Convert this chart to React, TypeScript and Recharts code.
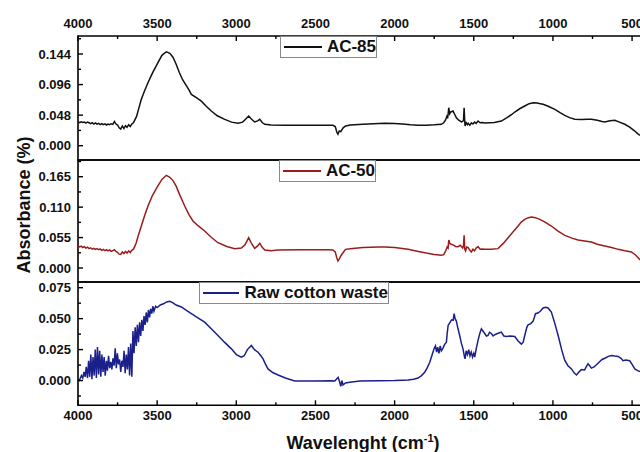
import React from "react";
import { LineChart, Line, XAxis, YAxis, ReferenceArea } from "recharts";

// ---- data: [wavenumber (cm-1), absorbance] ----
const ac85: [number, number][] = [
  [4000,0.0372],[3990,0.036],[3980,0.0375],[3970,0.0365],[3960,0.037],[3950,0.0355],[3940,0.0372],[3930,0.036],[3920,0.0345],[3910,0.0362],
  [3900,0.034],[3890,0.0358],[3880,0.0338],[3870,0.035],[3860,0.0332],[3850,0.0345],[3840,0.033],[3830,0.0342],[3820,0.0325],[3810,0.034],
  [3800,0.033],[3790,0.0345],[3780,0.0335],[3770,0.038],[3760,0.034],[3750,0.0325],[3740,0.028],[3730,0.026],[3720,0.031],[3710,0.027],
  [3700,0.0315],[3690,0.029],[3680,0.033],[3670,0.030],[3660,0.034],[3650,0.036],[3640,0.041],[3630,0.046],[3620,0.055],[3600,0.0728],
  [3580,0.086],[3558,0.0988],[3530,0.114],[3500,0.128],[3470,0.142],[3442,0.1475],[3420,0.145],[3400,0.139],[3380,0.128],[3360,0.115],
  [3340,0.104],[3320,0.096],[3300,0.088],[3284,0.0806],[3250,0.075],[3221,0.070],[3190,0.062],[3158,0.0544],[3120,0.047],[3073,0.0414],
  [3030,0.037],[2989,0.0351],[2960,0.037],[2940,0.042],[2922,0.0466],[2905,0.042],[2884,0.0372],[2865,0.039],[2852,0.0414],[2835,0.036],
  [2820,0.0336],[2780,0.0325],[2700,0.032],[2600,0.032],[2500,0.0322],[2420,0.0322],[2390,0.032],[2375,0.030],[2365,0.021],[2358,0.0179],
  [2350,0.023],[2340,0.022],[2325,0.028],[2310,0.031],[2280,0.0325],[2200,0.0336],[2100,0.0348],[2062,0.0351],[2000,0.0348],[1950,0.034],
  [1900,0.0328],[1852,0.032],[1800,0.0322],[1750,0.0328],[1705,0.0336],[1690,0.036],[1679,0.040],[1670,0.046],[1665,0.043],[1658,0.0596],
  [1652,0.050],[1645,0.053],[1631,0.0544],[1620,0.049],[1610,0.0439],[1595,0.040],[1578,0.0372],[1570,0.038],[1565,0.040],[1561,0.0596],
  [1557,0.038],[1555,0.031],[1548,0.036],[1540,0.033],[1535,0.0351],[1525,0.032],[1515,0.036],[1505,0.034],[1495,0.037],[1485,0.035],
  [1473,0.0387],[1460,0.036],[1445,0.0365],[1431,0.0356],[1400,0.036],[1370,0.0365],[1326,0.0387],[1290,0.044],[1260,0.049],[1241,0.0529],
  [1210,0.058],[1178,0.0623],[1150,0.066],[1125,0.0675],[1100,0.067],[1080,0.066],[1062,0.065],[1030,0.062],[988,0.0571],[955,0.052],
  [925,0.0477],[895,0.044],[862,0.0414],[820,0.0412],[780,0.0415],[757,0.0414],[720,0.040],[690,0.038],[672,0.0372],[640,0.039],
  [609,0.040],[580,0.037],[546,0.0336],[515,0.029],[483,0.023],[465,0.019],[450,0.0163],
];

const ac50: [number, number][] = [
  [4000,0.0398],[3990,0.038],[3980,0.0395],[3970,0.037],[3960,0.0385],[3950,0.036],[3940,0.0375],[3930,0.035],[3920,0.0365],[3910,0.034],
  [3900,0.0355],[3890,0.0335],[3880,0.035],[3870,0.033],[3860,0.0345],[3850,0.032],[3840,0.0335],[3830,0.0315],[3820,0.033],[3810,0.031],
  [3800,0.0325],[3790,0.030],[3780,0.0315],[3770,0.033],[3760,0.030],[3750,0.028],[3740,0.025],[3730,0.0245],[3720,0.029],[3710,0.026],
  [3700,0.030],[3690,0.027],[3680,0.031],[3670,0.028],[3660,0.032],[3650,0.034],[3640,0.040],[3632,0.0457],[3620,0.058],[3600,0.0759],
  [3580,0.094],[3558,0.112],[3530,0.131],[3500,0.146],[3470,0.160],[3442,0.1675],[3420,0.164],[3400,0.158],[3380,0.148],[3360,0.134],
  [3340,0.121],[3326,0.112],[3300,0.097],[3274,0.085],[3240,0.076],[3200,0.0669],[3160,0.056],[3116,0.0457],[3060,0.039],[3010,0.0349],
  [2968,0.036],[2945,0.042],[2922,0.0548],[2905,0.045],[2884,0.0355],[2865,0.040],[2852,0.0446],[2835,0.037],[2820,0.0325],[2780,0.031],
  [2736,0.0325],[2600,0.0328],[2500,0.033],[2420,0.033],[2390,0.0325],[2375,0.029],[2365,0.018],[2358,0.0127],[2350,0.016],[2340,0.0217],
  [2325,0.028],[2310,0.0337],[2280,0.035],[2200,0.037],[2100,0.038],[2062,0.038],[2000,0.037],[1915,0.0337],[1850,0.030],[1800,0.027],
  [1750,0.0245],[1705,0.0229],[1690,0.024],[1679,0.030],[1668,0.038],[1662,0.036],[1658,0.0506],[1650,0.044],[1641,0.0428],[1625,0.041],
  [1615,0.039],[1599,0.0386],[1585,0.041],[1570,0.036],[1565,0.040],[1561,0.059],[1557,0.034],[1552,0.0307],[1545,0.038],[1535,0.0368],
  [1525,0.032],[1515,0.029],[1505,0.034],[1495,0.031],[1485,0.036],[1473,0.0386],[1460,0.034],[1445,0.0345],[1431,0.0337],[1390,0.034],
  [1347,0.035],[1315,0.044],[1283,0.0548],[1250,0.066],[1220,0.0759],[1200,0.083],[1178,0.088],[1155,0.091],[1136,0.0922],[1110,0.091],
  [1083,0.088],[1050,0.083],[1010,0.0759],[970,0.067],[925,0.059],[880,0.054],[841,0.0506],[800,0.049],[757,0.047],[720,0.043],
  [672,0.0398],[630,0.037],[588,0.0337],[545,0.031],[504,0.029],[480,0.024],[460,0.018],[450,0.0145],
];

const rawCotton: [number, number][] = [
  [4000,0.001],[3992,0.000],[3985,0.002],[3978,0.004],[3970,0.002],[3962,0.007],[3955,0.003],[3948,0.011],[3940,0.002],[3933,0.016],
  [3926,0.003],[3919,0.021],[3912,0.001],[3905,0.019],[3898,0.004],[3891,0.025],[3884,0.002],[3877,0.027],[3870,0.005],[3863,0.024],
  [3856,0.003],[3849,0.021],[3842,0.007],[3835,0.019],[3828,0.004],[3821,0.016],[3814,0.008],[3807,0.020],[3800,0.010],[3793,0.015],
  [3786,0.009],[3779,0.018],[3772,0.012],[3765,0.026],[3758,0.010],[3751,0.022],[3744,0.013],[3737,0.017],[3730,0.007],[3723,0.016],
  [3716,0.011],[3709,0.024],[3702,0.006],[3695,0.021],[3688,0.009],[3681,0.027],[3674,0.004],[3667,0.030],[3660,0.003],[3653,0.040],
  [3646,0.022],[3639,0.043],[3632,0.028],[3625,0.045],[3618,0.031],[3611,0.047],[3604,0.036],[3597,0.049],[3590,0.040],[3583,0.052],
  [3576,0.045],[3569,0.055],[3562,0.047],[3555,0.057],[3548,0.051],[3541,0.058],[3534,0.054],[3527,0.060],[3520,0.056],[3510,0.060],
  [3500,0.059],[3480,0.061],[3460,0.062],[3440,0.0635],[3421,0.064],[3400,0.0628],[3380,0.061],[3347,0.0594],[3320,0.057],[3284,0.054],
  [3240,0.0505],[3200,0.0472],[3160,0.042],[3116,0.0364],[3075,0.031],[3031,0.0256],[3000,0.021],[2968,0.0189],[2950,0.020],[2930,0.025],
  [2905,0.0283],[2885,0.025],[2863,0.0229],[2845,0.020],[2831,0.0175],[2815,0.013],[2800,0.0094],[2770,0.0065],[2736,0.0045],[2690,0.002],
  [2631,-0.0003],[2500,-0.0003],[2400,-0.0002],[2378,-0.0003],[2365,0.0015],[2357,0.0026],[2350,0.000],[2340,-0.0046],[2333,0.000],[2326,-0.0035],
  [2310,-0.002],[2284,-0.0014],[2219,-0.0003],[2100,-0.0002],[2000,0.000],[1950,0.0003],[1915,0.0005],[1880,0.001],[1852,0.002],[1830,0.004],
  [1810,0.0067],[1795,0.010],[1778,0.0148],[1765,0.020],[1751,0.0256],[1742,0.028],[1735,0.023],[1728,0.027],[1720,0.022],[1712,0.028],
  [1705,0.024],[1695,0.026],[1685,0.029],[1673,0.031],[1668,0.038],[1662,0.0445],[1650,0.047],[1640,0.049],[1630,0.0486],[1624,0.054],
  [1618,0.050],[1610,0.048],[1600,0.042],[1589,0.0364],[1578,0.030],[1568,0.0256],[1560,0.020],[1555,0.0175],[1548,0.024],[1540,0.021],
  [1532,0.025],[1524,0.020],[1516,0.023],[1508,0.019],[1500,0.022],[1494,0.0189],[1484,0.026],[1473,0.0324],[1462,0.038],[1452,0.0418],
  [1442,0.040],[1431,0.038],[1420,0.036],[1410,0.0365],[1400,0.039],[1389,0.038],[1378,0.036],[1368,0.037],[1350,0.038],[1326,0.0391],
  [1310,0.036],[1294,0.0355],[1270,0.036],[1241,0.0356],[1220,0.032],[1199,0.0294],[1188,0.031],[1178,0.0364],[1165,0.043],[1157,0.045],
  [1140,0.046],[1125,0.048],[1110,0.054],[1095,0.0545],[1080,0.056],[1062,0.0586],[1045,0.0592],[1031,0.0586],[1010,0.0553],[990,0.047],
  [967,0.0364],[945,0.025],[925,0.0162],[905,0.012],[883,0.0094],[865,0.006],[851,0.0045],[835,0.007],[820,0.0089],[800,0.0085],
  [790,0.011],[778,0.0135],[768,0.012],[757,0.010],[740,0.011],[715,0.014],[690,0.017],[672,0.018],[650,0.0195],[630,0.0202],
  [610,0.0198],[588,0.0195],[570,0.018],[557,0.016],[540,0.0165],[515,0.016],[500,0.013],[483,0.0094],[465,0.008],[450,0.0073],
];

// ---- axes ----
const xDomain: [number, number] = [450, 4000];
const xFrameEnd = 440;
const xMajorTicks = [4000, 3500, 3000, 2500, 2000, 1500, 1000, 500];
const xMinorTicks = [3750, 3250, 2750, 2250, 1750, 1250, 750];

const y1Domain: [number, number] = [-0.0225, 0.1723];
const y1Major = [0, 0.048, 0.096, 0.144];
const y1Minor = [0.024, 0.072, 0.12, 0.168];

const y2Domain: [number, number] = [-0.0253, 0.1952];
const y2Major = [0, 0.055, 0.11, 0.165];
const y2Minor = [0.0275, 0.0825, 0.1375, 0.1925];

const y3Domain: [number, number] = [-0.02, 0.0796];
const y3Major = [0, 0.025, 0.05, 0.075];
const y3Minor = [-0.0125, 0.0125, 0.0375, 0.0625];

const seriesNames = ["AC-85", "AC-50", "Raw cotton waste"];
const colors = ["#111111", "#9a1c1c", "#1a1f8a"];

const FONT = "'Liberation Sans', Arial, Helvetica, sans-serif";
const toRows = (d: [number, number][]) => d.map(([wn, abs]) => ({ wn, abs }));

const makeXTick = (pos: "top" | "bottom", showLabel: boolean) => (props: any) => {
  const { x, y, payload } = props;
  const major = xMajorTicks.includes(payload.value);
  const len = major ? 5 : 3;
  const dir = pos === "top" ? 1 : -1;
  return (
    <g>
      <path d={`M${x},${y}L${x},${y + dir * len}`} stroke="#000" strokeWidth={1.4} fill="none" />
      {showLabel && major && (
        <text
          x={x}
          y={pos === "top" ? y - 8.5 : y + 15}
          textAnchor="middle"
          fontFamily={FONT}
          fontWeight="bold"
          fontSize={13}
          fill="#111"
        >
          {payload.value}
        </text>
      )}
    </g>
  );
};

const makeYTick = (majors: number[]) => (props: any) => {
  const { x, y, payload } = props;
  const major = majors.some((m) => Math.abs(m - payload.value) < 1e-9);
  return (
    <g>
      <path d={`M${x},${y}L${x + (major ? 5 : 3)},${y}`} stroke="#000" strokeWidth={1.4} fill="none" />
      {major && (
        <text
          x={x - 7}
          y={y + 4.6}
          textAnchor="end"
          fontFamily={FONT}
          fontWeight="bold"
          fontSize={13}
          fill="#111"
        >
          {payload.value.toFixed(3)}
        </text>
      )}
    </g>
  );
};

const xTicksAll = [...xMajorTicks, ...xMinorTicks].sort((a, b) => b - a);

type PanelProps = {
  data: [number, number][];
  color: string;
  yDomain: [number, number];
  yMajor: number[];
  yMinor: number[];
  top: number;
  height: number;
  margin: { top: number; bottom: number };
  topAxis: number;
  bottomAxis: number;
  bottomLabels: boolean;
};

function Panel(p: PanelProps) {
  return (
    <div style={{ position: "absolute", left: 0, top: p.top, width: 640, height: p.height }}>
      <LineChart
        width={640}
        height={p.height}
        data={toRows(p.data)}
        margin={{ top: p.margin.top, right: 0, bottom: p.margin.bottom, left: 0 }}
      >
        {p.topAxis > 0 && (
          <XAxis
            xAxisId="top"
            orientation="top"
            type="number"
            dataKey="wn"
            domain={xDomain}
            reversed
            allowDataOverflow
            ticks={xTicksAll}
            interval={0}
            height={p.topAxis}
            tickSize={0}
            tickMargin={0}
            tickLine={false}
            axisLine={false}
            tick={makeXTick("top", true)}
          />
        )}
        <XAxis
          xAxisId="bottom"
          orientation="bottom"
          type="number"
          dataKey="wn"
          domain={xDomain}
          reversed
          allowDataOverflow
          ticks={xTicksAll}
          interval={0}
          height={p.bottomAxis}
          tickSize={0}
          tickMargin={0}
          tickLine={false}
          axisLine={false}
          tick={makeXTick("bottom", p.bottomLabels)}
        />
        <YAxis
          type="number"
          domain={p.yDomain}
          allowDataOverflow
          ticks={[...p.yMajor, ...p.yMinor].sort((a, b) => a - b)}
          interval={0}
          width={78}
          tickSize={0}
          tickMargin={0}
          tickLine={false}
          axisLine={false}
          tick={makeYTick(p.yMajor)}
        />
        <ReferenceArea
          xAxisId="bottom"
          x1={4000}
          x2={xFrameEnd}
          y1={p.yDomain[0]}
          y2={p.yDomain[1]}
          ifOverflow="visible"
          fill="none"
          fillOpacity={0}
          stroke="#000"
          strokeWidth={1.6}
          strokeOpacity={1}
        />
        <Line
          xAxisId="bottom"
          type="linear"
          dataKey="abs"
          stroke={p.color}
          strokeWidth={1.5}
          dot={false}
          isAnimationActive={false}
        />
      </LineChart>
    </div>
  );
}

function LegendBox({ left, top, width, name, color }: { left: number; top: number; width: number; name: string; color: string }) {
  return (
    <div
      style={{
        position: "absolute",
        left,
        top,
        width,
        height: 22,
        boxSizing: "border-box",
        border: "1px solid #8a8a8a",
        background: "#fff",
        display: "flex",
        alignItems: "center",
        fontFamily: FONT,
        fontWeight: "bold",
        fontSize: 17,
        color: "#111",
        whiteSpace: "nowrap",
      }}
    >
      <div style={{ width: 38, height: 2, background: color, marginLeft: 3, marginRight: 5 }} />
      <span>{name}</span>
    </div>
  );
}

export default function App() {
  return (
    <div style={{ position: "absolute", left: 0, top: 0, width: 640, height: 452, background: "#fff", overflow: "hidden" }}>
      <Panel
        data={ac85}
        color={colors[0]}
        yDomain={y1Domain}
        yMajor={y1Major}
        yMinor={y1Minor}
        top={0}
        height={170}
        margin={{ top: 0, bottom: 10 }}
        topAxis={36}
        bottomAxis={0}
        bottomLabels={false}
      />
      <Panel
        data={ac50}
        color={colors[1]}
        yDomain={y2Domain}
        yMajor={y2Major}
        yMinor={y2Minor}
        top={150}
        height={142}
        margin={{ top: 10, bottom: 10 }}
        topAxis={0}
        bottomAxis={0}
        bottomLabels={false}
      />
      <Panel
        data={rawCotton}
        color={colors[2]}
        yDomain={y3Domain}
        yMajor={y3Major}
        yMinor={y3Minor}
        top={272}
        height={180}
        margin={{ top: 10, bottom: 0 }}
        topAxis={0}
        bottomAxis={46.7}
        bottomLabels={true}
      />
      <LegendBox left={280} top={36} width={97} name={seriesNames[0]} color={colors[0]} />
      <LegendBox left={279} top={160} width={97} name={seriesNames[1]} color={colors[1]} />
      <LegendBox left={199} top={282} width={190} name={seriesNames[2]} color={colors[2]} />
      <svg width={640} height={452} style={{ position: "absolute", left: 0, top: 0, pointerEvents: "none" }}>
        <text
          transform="translate(30,205) rotate(-90)"
          textAnchor="middle"
          fontFamily={FONT}
          fontWeight="bold"
          fontSize={18}
          fill="#111"
        >
          Absorbance (%)
        </text>
        <text x={363} y={449} textAnchor="middle" fontFamily={FONT} fontWeight="bold" fontSize={18} fill="#111">
          Wavelenght (cm
          <tspan fontSize={11} dy={-7}>-1</tspan>
          <tspan dy={7}>)</tspan>
        </text>
      </svg>
    </div>
  );
}
